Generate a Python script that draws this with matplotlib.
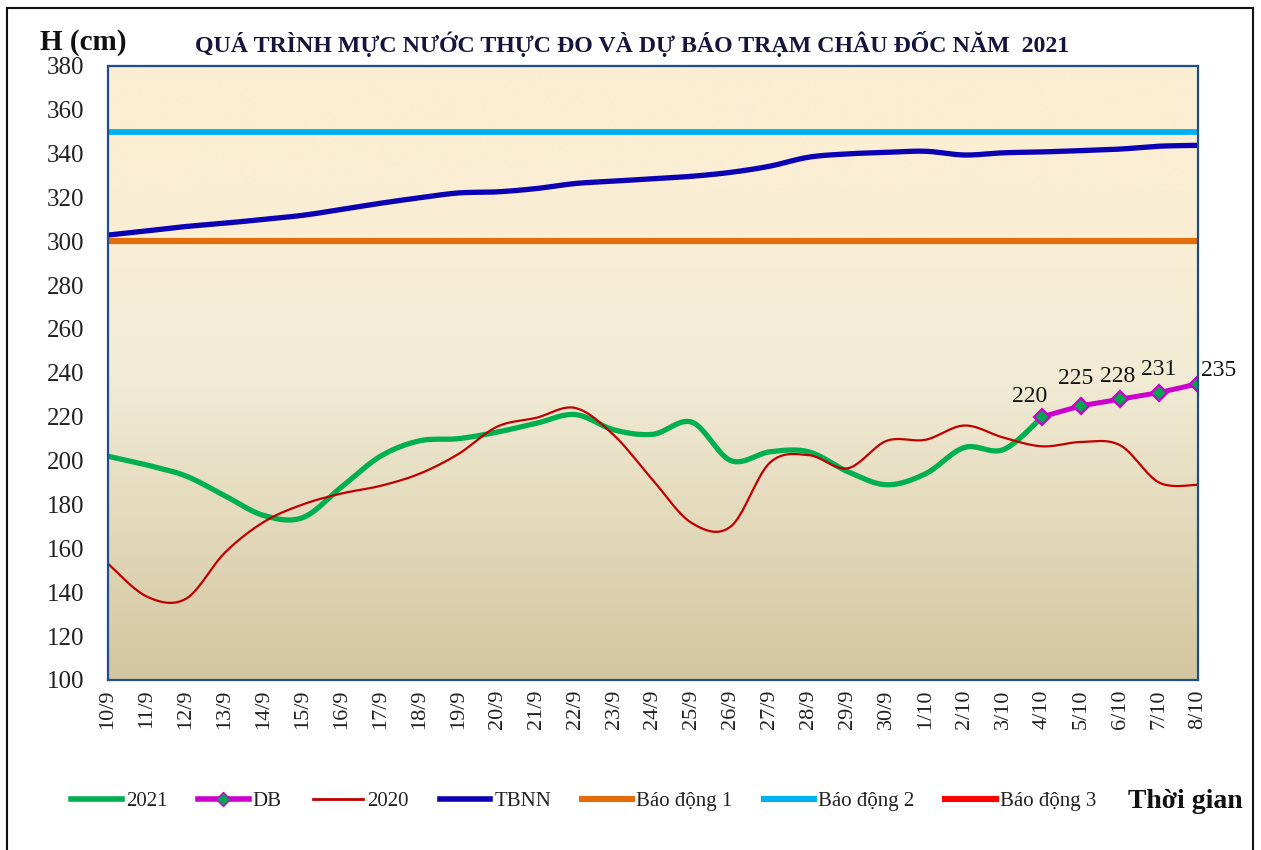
import numpy as np
import matplotlib
matplotlib.use("Agg")
import matplotlib.pyplot as plt
from matplotlib.lines import Line2D
from matplotlib.patches import Rectangle
from matplotlib.colors import LinearSegmentedColormap

plt.rcParams['font.family'] = ['Liberation Serif', 'DejaVu Serif']

# ---------------- data ----------------
dates = ['10/9', '11/9', '12/9', '13/9', '14/9', '15/9', '16/9', '17/9', '18/9', '19/9',
         '20/9', '21/9', '22/9', '23/9', '24/9', '25/9', '26/9', '27/9', '28/9', '29/9',
         '30/9', '1/10', '2/10', '3/10', '4/10', '5/10', '6/10', '7/10', '8/10']

h2021 = [202, 198, 193, 184, 175, 174, 188, 202, 209, 210,
         213, 217, 221, 214, 212, 217.5, 200, 204, 204, 195,
         189, 194, 206, 205, 220]

db_dates = ['4/10', '5/10', '6/10', '7/10', '8/10']
db_values = [220, 225, 228, 231, 235]

h2020 = [153, 138, 137, 158, 172, 180, 185, 188.5, 194, 203,
         215.5, 219.5, 224, 211.5, 191, 171.5, 170, 199, 202.5, 196.5,
         209, 209.5, 216, 210.5, 206.5, 208.5, 207, 190, 189]

tbnn = [302.8, 304.7, 306.7, 308.2, 310, 311.8, 314.5, 317.3, 319.8, 322,
        322.5, 324, 326.3, 327.4, 328.5, 329.6, 331.4, 334.2, 338.3, 339.8,
        340.5, 341, 339.3, 340.3, 340.7, 341.3, 342, 343.3, 343.7]

bd1 = 300
bd2 = 350
bd3 = 400

y_ticks = list(range(100, 381, 20))

# ---------------- helpers ----------------
def smooth(xs, ys, n=24):
    """Excel-like smoothed line (Catmull-Rom Bezier)."""
    xs = np.asarray(xs, float)
    ys = np.asarray(ys, float)
    px = np.concatenate([[xs[0]], xs, [xs[-1]]])
    py = np.concatenate([[ys[0]], ys, [ys[-1]]])
    outx, outy = [], []
    t = np.linspace(0, 1, n)
    for i in range(1, len(px) - 2):
        p0x, p1x, p2x, p3x = px[i - 1], px[i], px[i + 1], px[i + 2]
        p0y, p1y, p2y, p3y = py[i - 1], py[i], py[i + 1], py[i + 2]
        c1x = p1x + (p2x - p0x) / 6
        c1y = p1y + (p2y - p0y) / 6
        c2x = p2x - (p3x - p1x) / 6
        c2y = p2y - (p3y - p1y) / 6
        bx = (1 - t) ** 3 * p1x + 3 * (1 - t) ** 2 * t * c1x + 3 * (1 - t) * t ** 2 * c2x + t ** 3 * p2x
        by = (1 - t) ** 3 * p1y + 3 * (1 - t) ** 2 * t * c1y + 3 * (1 - t) * t ** 2 * c2y + t ** 3 * p2y
        if i > 1:
            bx, by = bx[1:], by[1:]
        outx.extend(bx)
        outy.extend(by)
    return np.array(outx), np.array(outy)

# ---------------- figure ----------------
W, H = 1261, 850
fig = plt.figure(figsize=(W / 100, H / 100), dpi=100)
fig.patch.set_facecolor('white')

L, R, T, B = 108, 1198, 65.7, 680
ax = fig.add_axes([L / W, 1 - B / H, (R - L) / W, (B - T) / H])

# background gradient
grad_cmap = LinearSegmentedColormap.from_list(
    'bg', [(0.0, '#FCEED3'), (0.30, '#F9EED5'), (0.50, '#F2ECD6'),
           (0.75, '#E3D9BB'), (1.0, '#D3C59F')])
gradient = np.linspace(0, 1, 256).reshape(-1, 1)
ax.imshow(gradient, aspect='auto', cmap=grad_cmap, extent=[0, 1, 0, 1],
          transform=ax.transAxes, zorder=0, interpolation='bicubic')

x_all = np.arange(len(dates))
x2021 = np.arange(len(h2021))
xdb = np.array([dates.index(d) for d in db_dates])

c2021 = '#00B050'
cdb = '#CC00CC'
c2020 = '#C00000'
ctb = '#0C00B4'
cbd1 = '#E46C0A'
cbd2 = '#00B0F0'
cbd3 = '#FF0000'

sx, sy = smooth(x2021, h2021)
ax.plot(sx, sy, color=c2021, lw=3.8, zorder=3, solid_capstyle='butt')

ax.plot(xdb, db_values, color=cdb, lw=3.6, zorder=4, marker='D', markersize=8.5,
        markerfacecolor='#00A550', markeredgecolor=cdb, markeredgewidth=1.6)

sx, sy = smooth(x_all, h2020)
ax.plot(sx, sy, color=c2020, lw=1.6, zorder=5)

sx, sy = smooth(x_all, tbnn)
ax.plot(sx, sy, color=ctb, lw=3.8, zorder=4, solid_capstyle='butt')

ax.plot(x_all, [bd1] * len(dates), color=cbd1, lw=4.4, zorder=3)
ax.plot(x_all, [bd2] * len(dates), color=cbd2, lw=4.2, zorder=3)
ax.plot(x_all, [bd3] * len(dates), color=cbd3, lw=4.2, zorder=3)

# data labels
offsets = [(-9, 7), (-4, 12), (-2, 9), (0, 9), (15, 2)]
for xi, v, (dx, dy) in zip(xdb, db_values, offsets):
    ax.annotate(str(v), (xi, v), xytext=(dx, dy), textcoords='offset points',
                ha='center', va='bottom', fontsize=17, color='#111111', zorder=6,
                annotation_clip=False)

ax.set_xlim(0, len(dates) - 1)
ax.set_ylim(100, 380)
ax.set_yticks(y_ticks)
ax.set_yticklabels([str(v) for v in y_ticks], fontsize=18, color='#222222')
ax.set_xticks(x_all)
ax.set_xticklabels(dates, rotation=90, fontsize=16, color='#222222')
ax.tick_params(axis='both', length=0)
ax.tick_params(axis='y', pad=17)
ax.tick_params(axis='x', pad=7)

for s in ax.spines.values():
    s.set_color('#1F4E8C')
    s.set_linewidth(1.6)
    s.set_zorder(7)

# texts
fig.text(40 / W, 1 - 42 / H, 'H (cm)', fontsize=21, fontweight='bold',
         color='#111111', ha='left', va='center')
fig.text(632 / W, 1 - 44 / H,
         'QUÁ TRÌNH MỰC NƯỚC THỰC ĐO VÀ DỰ BÁO TRẠM CHÂU ĐỐC NĂM  2021',
         fontsize=17.2, fontweight='bold', color='#14143C', ha='center', va='center')
fig.text(1243 / W, 1 - 801 / H, 'Thời gian', fontsize=20, fontweight='bold',
         color='#111111', ha='right', va='center')

# legend
handles = [
    Line2D([], [], color=c2021, lw=4),
    Line2D([], [], color=cdb, lw=4, marker='D', markersize=7,
           markerfacecolor='#00A550', markeredgecolor=cdb),
    Line2D([], [], color=c2020, lw=2),
    Line2D([], [], color=ctb, lw=4),
    Line2D([], [], color=cbd1, lw=4.4),
    Line2D([], [], color=cbd2, lw=4.4),
    Line2D([], [], color=cbd3, lw=4.4),
]
labels = ['2021', 'DB', '2020', 'TBNN', 'Báo động 1', 'Báo động 2', 'Báo động 3']
leg = fig.legend(handles, labels, loc='center left', bbox_to_anchor=(63 / W, 1 - 801 / H),
                 ncol=7, frameon=False, fontsize=15, handlelength=2.42,
                 handletextpad=0.2, columnspacing=1.48, borderaxespad=0)
for t in leg.get_texts():
    t.set_color('#222222')

# outer border
fig.patches.append(Rectangle((7 / W, -0.02), (1253 - 7) / W, 1.02 - 8 / H,
                             transform=fig.transFigure, fill=False,
                             edgecolor='#111111', lw=1.5))

fig.savefig('out.png', dpi=100)
